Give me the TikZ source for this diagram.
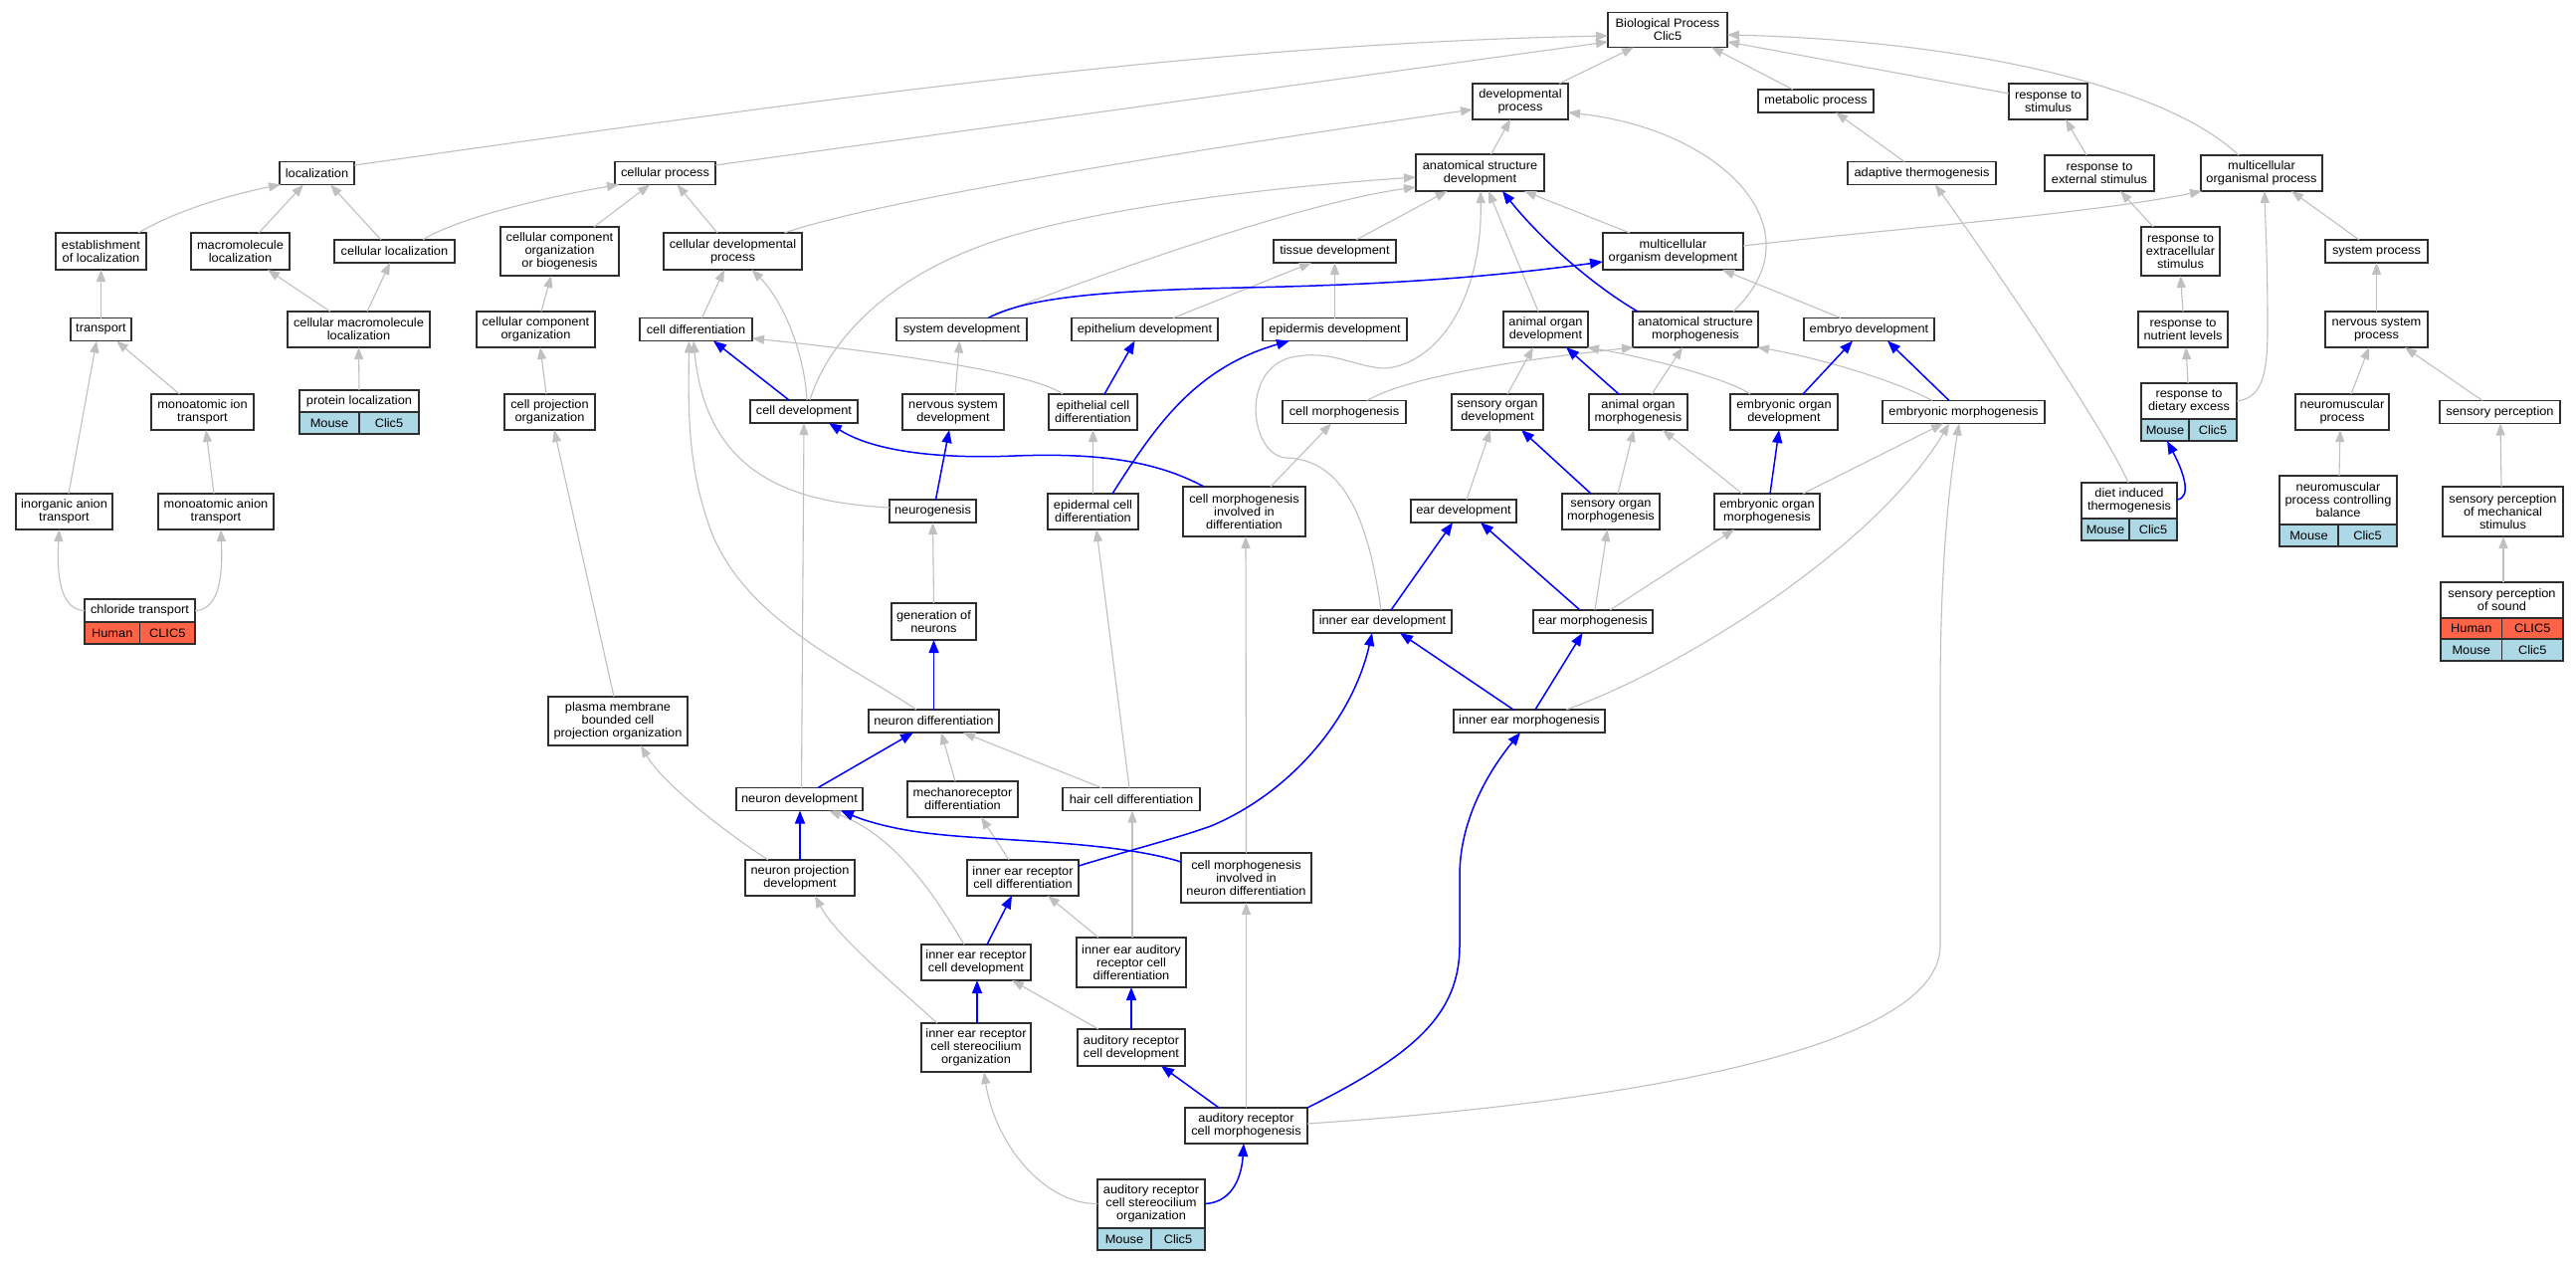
\documentclass[tikz,border=0pt]{standalone}
\usepackage{fontspec}
\newfontfamily\gofont{Liberation Sans}[FakeStretch=1.05]
\usetikzlibrary{arrows.meta}
\definecolor{edgegray}{HTML}{C0C0C0}
\definecolor{mouseblue}{HTML}{ADD8E6}
\definecolor{humanred}{HTML}{FF6347}
\newcommand\gofontsz{\gofont\fontsize{12.2pt}{13pt}\selectfont}
\tikzset{
 nb/.style 2 args={draw=black!82, line width=1.4pt, fill=white, inner sep=0pt, outer sep=0pt, align=center, font=\gofontsz, minimum width=#1pt, minimum height=#2pt},
 mc/.style 2 args={nb={#1}{#2}, fill=mouseblue},
 hc/.style 2 args={nb={#1}{#2}, fill=humanred},
 ge/.style={draw=edgegray, line width=1.1pt, -{Triangle[length=12pt,width=9pt]}},
 be/.style={draw=blue, line width=1.5pt, -{Triangle[length=13pt,width=10pt]}},
}
\begin{document}
\begin{tikzpicture}[x=1pt,y=-1pt]
\fill[white] (0,0) rectangle (2589,1267);
\useasboundingbox (0,0) rectangle (2589,1267);
% ---- nodes ----
\node[nb={120}{35}] (bp) at (1676,30) {Biological Process\\Clic5};
\node[nb={96}{36}] (devproc) at (1528,102) {developmental\\process};
\node[nb={116}{23}] (metab) at (1825,101.5) {metabolic process};
\node[nb={79}{36}] (respstim) at (2058.5,102) {response to\\stimulus};
\node[nb={75}{23}] (loc) at (318.5,174) {localization};
\node[nb={101}{23}] (cellproc) at (668.5,174) {cellular process};
\node[nb={129}{37}] (asd) at (1487.5,173.5) {anatomical structure\\development};
\node[nb={149}{23}] (adapt) at (1931.5,174) {adaptive thermogenesis};
\node[nb={110}{36}] (respext) at (2110,174) {response to\\external stimulus};
\node[nb={122}{36}] (mop) at (2273,174) {multicellular\\organismal process};
\node[nb={91}{37}] (estloc) at (101.5,252.5) {establishment\\of localization};
\node[nb={99}{37}] (macloc) at (241.5,252.5) {macromolecule\\localization};
\node[nb={121}{23}] (cellloc) at (396.5,252.5) {cellular localization};
\node[nb={119}{49}] (ccob) at (562.5,252.5) {cellular component\\organization\\or biogenesis};
\node[nb={139}{37}] (cdp) at (736.5,252.5) {cellular developmental\\process};
\node[nb={123}{23}] (tissue) at (1341.5,252.5) {tissue development};
\node[nb={141}{37}] (mod) at (1681.5,252.5) {multicellular\\organism development};
\node[nb={79}{49}] (respextra) at (2191.5,252.5) {response to\\extracellular\\stimulus};
\node[nb={103}{23}] (sysproc) at (2388.5,252.5) {system process};
\node[nb={61}{23}] (transport) at (101.5,331) {transport};
\node[nb={143}{36}] (cmacloc) at (360.5,331) {cellular macromolecule\\localization};
\node[nb={119}{36}] (cco) at (538.5,331) {cellular component\\organization};
\node[nb={113}{23}] (celldiff) at (699.5,331) {cell differentiation};
\node[nb={131}{23}] (sysdev) at (966.5,331) {system development};
\node[nb={147}{23}] (epidev) at (1150.5,331) {epithelium development};
\node[nb={145}{23}] (epiddev) at (1341.5,331) {epidermis development};
\node[nb={85}{36}] (aod) at (1553.5,331) {animal organ\\development};
\node[nb={126}{36}] (asm) at (1704,331) {anatomical structure\\morphogenesis};
\node[nb={131}{23}] (embdev) at (1878.5,331) {embryo development};
\node[nb={90}{36}] (respnut) at (2194,331) {response to\\nutrient levels};
\node[nb={103}{36}] (nsp) at (2388.5,331) {nervous system\\process};
\node[nb={103}{36}] (mit) at (203.5,414) {monoatomic ion\\transport};
\node[nb={120}{22}] (protloc) at (361,403) {protein localization};
\node[mc={60}{22}] (protlocM) at (331,425) {Mouse};
\node[mc={60}{22}] (protlocG) at (391,425) {Clic5};
\node[nb={91}{36}] (cpo) at (552.5,414) {cell projection\\organization};
\node[nb={108}{23}] (celldev) at (808,413.5) {cell development};
\node[nb={102}{36}] (nsd) at (958,414) {nervous system\\development};
\node[nb={89}{36}] (ecd) at (1098.5,414) {epithelial cell\\differentiation};
\node[nb={124}{23}] (cellmorph) at (1351,414) {cell morphogenesis};
\node[nb={92}{36}] (sod) at (1505,414) {sensory organ\\development};
\node[nb={99}{36}] (aom) at (1646.5,414) {animal organ\\morphogenesis};
\node[nb={108}{36}] (eod) at (1793,414) {embryonic organ\\development};
\node[nb={163}{23}] (embmorph) at (1973.5,414) {embryonic morphogenesis};
\node[nb={96}{36}] (respdiet) at (2200,403) {response to\\dietary excess};
\node[mc={48}{22}] (respdietM) at (2176,432) {Mouse};
\node[mc={48}{22}] (respdietG) at (2224,432) {Clic5};
\node[nb={94}{36}] (nmp) at (2354,414) {neuromuscular\\process};
\node[nb={121}{23}] (sensperc) at (2512.5,414) {sensory perception};
\node[nb={97}{36}] (iat) at (64.5,514) {inorganic anion\\transport};
\node[nb={116}{36}] (mat) at (217,514) {monoatomic anion\\transport};
\node[nb={87}{23}] (neurogen) at (937.5,513.5) {neurogenesis};
\node[nb={91}{36}] (edcd) at (1098.5,514) {epidermal cell\\differentiation};
\node[nb={123}{50}] (cmid) at (1250.5,514) {cell morphogenesis\\involved in\\differentiation};
\node[nb={106}{23}] (eardev) at (1471,513.5) {ear development};
\node[nb={98}{36}] (som) at (1619,514) {sensory organ\\morphogenesis};
\node[nb={106}{36}] (eom) at (1776,514) {embryonic organ\\morphogenesis};
\node[nb={96}{36}] (dit) at (2140,503) {diet induced\\thermogenesis};
\node[mc={48}{22}] (ditM) at (2116,532) {Mouse};
\node[mc={48}{22}] (ditG) at (2164,532) {Clic5};
\node[nb={118}{49}] (nmpcb) at (2350,502.5) {neuromuscular\\process controlling\\balance};
\node[mc={59}{22}] (nmpcbM) at (2320.5,538) {Mouse};
\node[mc={59}{22}] (nmpcbG) at (2379.5,538) {Clic5};
\node[nb={121}{50}] (spms) at (2515.5,514) {sensory perception\\of mechanical\\stimulus};
\node[nb={111}{23}] (chloride) at (140.5,613.5) {chloride transport};
\node[hc={55.5}{22}] (chlorideH) at (112.75,636) {Human};
\node[hc={55.5}{22}] (chlorideG) at (168.25,636) {CLIC5};
\node[nb={85}{37}] (gon) at (938.5,624.5) {generation of\\neurons};
\node[nb={139}{23}] (ied) at (1389.5,624.5) {inner ear development};
\node[nb={120}{23}] (earmorph) at (1601,624.5) {ear morphogenesis};
\node[nb={123}{36}] (sps) at (2514.5,603) {sensory perception\\of sound};
\node[hc={61.5}{21}] (spsH) at (2483.75,631.5) {Human};
\node[hc={61.5}{21}] (spsHG) at (2545.25,631.5) {CLIC5};
\node[mc={61.5}{22}] (spsM) at (2483.75,653) {Mouse};
\node[mc={61.5}{22}] (spsMG) at (2545.25,653) {Clic5};
\node[nb={140}{49}] (pmbcpo) at (621,724.5) {plasma membrane\\bounded cell\\projection organization};
\node[nb={131}{23}] (neurdiff) at (938.5,724.5) {neuron differentiation};
\node[nb={152}{23}] (iem) at (1537,724.5) {inner ear morphogenesis};
\node[nb={127}{23}] (neurdev) at (803.5,803) {neuron development};
\node[nb={111}{36}] (mechdiff) at (967.5,803) {mechanoreceptor\\differentiation};
\node[nb={138}{23}] (hcd) at (1137,803) {hair cell differentiation};
\node[nb={110}{36}] (npd) at (804,882) {neuron projection\\development};
\node[nb={112}{36}] (iercd) at (1028,882) {inner ear receptor\\cell differentiation};
\node[nb={131}{50}] (cmind) at (1252.5,882) {cell morphogenesis\\involved in\\neuron differentiation};
\node[nb={110}{36}] (iercdev) at (981,967) {inner ear receptor\\cell development};
\node[nb={110}{50}] (iearcd) at (1137,967) {inner ear auditory\\receptor cell\\differentiation};
\node[nb={110}{49}] (iercso) at (981,1052.5) {inner ear receptor\\cell stereocilium\\organization};
\node[nb={108}{37}] (arcd) at (1137,1052.5) {auditory receptor\\cell development};
\node[nb={123}{36}] (arcm) at (1252.5,1131) {auditory receptor\\cell morphogenesis};
\node[nb={108}{49}] (arcso) at (1157,1209.5) {auditory receptor\\cell stereocilium\\organization};
\node[mc={54}{22}] (arcsoM) at (1130,1245) {Mouse};
\node[mc={54}{22}] (arcsoG) at (1184,1245) {Clic5};
% ---- gray edges ----
\draw[ge] ([xshift=39pt]devproc.north) -- ([xshift=-34pt]bp.south);
\draw[ge] ([xshift=-23pt]metab.north) -- ([xshift=44pt]bp.south);
\draw[ge] ([yshift=8pt]respstim.west) -- ([yshift=-12pt]bp.east);
\draw[ge] ([yshift=8pt]loc.east) .. controls (776,107) and (1197,44) .. ([yshift=-6pt]bp.west);
\draw[ge] ([yshift=8pt]cellproc.east) -- ([yshift=-12pt]bp.west);
\draw[ge] ([xshift=-23pt]mop.north) .. controls (2170,80) and (1950,40) .. ([yshift=-5pt]bp.east);
\draw[ge] ([xshift=52pt]cdp.north) .. controls (889,199) and (1230,146) .. ([yshift=-8pt]devproc.west);
\draw[ge] ([xshift=11pt]asd.north) -- ([xshift=-10pt]devproc.south);
\draw[ge] ([xshift=38pt]asm.north) .. controls (1830,230) and (1730,130) .. ([yshift=-11pt]devproc.east);
\draw[ge] ([xshift=37.5pt]estloc.north) .. controls (180,210) and (235,195) .. ([xshift=1pt]loc.south west);
\draw[ge] ([xshift=18.5pt]macloc.north) -- ([xshift=-13.5pt]loc.south);
\draw[ge] ([xshift=-13.5pt]cellloc.north) -- ([xshift=13.5pt]loc.south);
\draw[ge] ([xshift=28.5pt]cellloc.north) .. controls (460,218) and (560,196) .. ([xshift=4pt]cellproc.south west);
\draw[ge] ([xshift=34.5pt]ccob.north) -- ([xshift=-15.5pt]cellproc.south);
\draw[ge] ([xshift=-15.5pt]cdp.north) -- ([xshift=12pt]cellproc.south);
\draw[ge] (transport.north) -- (estloc.south);
\draw[ge] ([xshift=-28.5pt]cmacloc.north) -- ([xshift=27.5pt]macloc.south);
\draw[ge] ([xshift=8.5pt]cmacloc.north) -- ([xshift=-4.5pt]cellloc.south);
\draw[ge] ([xshift=5.5pt]cco.north) -- ([xshift=-8.5pt]ccob.south);
\draw[ge] ([xshift=6pt]celldiff.north) -- ([xshift=-8.5pt]cdp.south);
\draw[ge] ([xshift=3pt]celldev.north) .. controls (808,350) and (785,300) .. ([xshift=19pt]cdp.south);
\draw[ge] ([xshift=6pt]celldev.north) .. controls (830,350) and (880,290) .. (971,253) .. controls (1060,215) and (1250,190) .. ([yshift=-4.5pt]asd.west);
\draw[ge] ([xshift=26.5pt]sysdev.north) .. controls (1080,285) and (1300,205) .. ([yshift=-14.5pt]asd.west);
\draw[ge] ([xshift=21.5pt]tissue.north) -- ([xshift=-33pt]asd.south);
\draw[ge] ([xshift=28.5pt]epidev.north) -- ([xshift=-23.5pt]tissue.south);
\draw[ge] (epiddev.north) -- (tissue.south);
\draw[ge] ([xshift=2pt]nsd.north) -- ([xshift=-2pt]sysdev.south);
\draw[ge] ([xshift=-30.5pt]ecd.north) .. controls (1040,375) and (900,355) .. ([yshift=-9pt]celldiff.east);
\draw[ge] ([xshift=-1.5pt]ied.north) .. controls (1375,520) and (1350,462) .. (1293,460) .. controls (1255,458) and (1245,365) .. (1304,358) .. controls (1340,352) and (1365,370) .. (1393,370) .. controls (1445,365) and (1490,300) .. ([xshift=0.5pt]asd.south);
\draw[ge] ([xshift=-7.5pt]aod.north) -- ([xshift=8.5pt]asd.south);
\draw[ge] ([xshift=-43.5pt]mod.north) -- ([xshift=44.5pt]asd.south);
\draw[ge] ([xshift=23pt]cellmorph.north) .. controls (1420,375) and (1560,358) .. ([xshift=1pt]asm.south west);
\draw[ge] ([xshift=10pt]sod.north) -- ([xshift=-12.5pt]aod.south);
\draw[ge] ([xshift=13.5pt]aom.north) -- ([xshift=-13pt]asm.south);
\draw[ge] ([xshift=-34pt]eod.north) .. controls (1740,382) and (1660,360) .. ([xshift=-1pt]aod.south east);
\draw[ge] ([xshift=-31.5pt]embmorph.north) .. controls (1900,380) and (1820,358) .. ([xshift=-1pt]asm.south east);
\draw[ge] ([xshift=-28.5pt]embdev.north) -- ([xshift=49.5pt]mod.south);
\draw[ge] ([yshift=5.5pt]mod.east) .. controls (1900,230) and (2100,215) .. ([xshift=1pt]mop.south west);
\draw[ge] ([xshift=-17.5pt]adapt.north) -- ([xshift=20pt]metab.south);
\draw[ge] ([xshift=-1pt]dit.north) .. controls (2120,440) and (2020,290) .. ([xshift=13.5pt]adapt.south);
\draw[ge] ([xshift=-13pt]respext.north) -- ([xshift=17.5pt]respstim.south);
\draw[ge] ([xshift=-27.5pt]respextra.north) -- ([xshift=21pt]respext.south);
\draw[ge] (respnut.north) -- (respextra.south);
\draw[ge] ([xshift=-1pt]respdiet.north) -- ([xshift=3pt]respnut.south);
\draw[ge] (respdiet.east) .. controls (2272,400) and (2279,380) .. (2279,330) .. controls (2279,260) and (2277,230) .. ([xshift=3pt]mop.south);
\draw[ge] ([xshift=-17.5pt]sysproc.north) -- ([xshift=30pt]mop.south);
\draw[ge] (nsp.north) -- (sysproc.south);
\draw[ge] ([xshift=9pt]nmp.north) -- ([xshift=-7.5pt]nsp.south);
\draw[ge] ([xshift=-17.5pt]sensperc.north) -- ([xshift=28.5pt]nsp.south);
\draw[ge] ([xshift=1pt]nmpcb.north) -- ([xshift=-2pt]nmp.south);
\draw[ge] ([xshift=-1.5pt]spms.north) -- ([xshift=0.5pt]sensperc.south);
\draw[ge] ([xshift=1.5pt]sps.north) -- ([xshift=0.5pt]spms.south);
\draw[ge] ([xshift=36pt]eom.north) -- ([xshift=-20.5pt]embmorph.south);
\draw[ge] ([xshift=-25pt]eom.north) -- ([xshift=24.5pt]aom.south);
\draw[ge] ([xshift=17pt]earmorph.north) -- ([xshift=-33pt]eom.south);
\draw[ge] ([xshift=37pt]iem.north) .. controls (1690,672) and (1885,550) .. ([xshift=-14.5pt]embmorph.south);
\draw[ge] ([yshift=2pt]arcm.east) .. controls (1600,1110) and (1950,1060) .. (1950,950) -- (1950,700) .. controls (1950,560) and (1960,480) .. ([xshift=-4.5pt]embmorph.south);
\draw[ge] ([xshift=3pt]eardev.north) -- ([xshift=-7pt]sod.south);
\draw[ge] ([xshift=7pt]som.north) -- ([xshift=-4.5pt]aom.south);
\draw[ge] ([xshift=26.5pt]cmid.north) -- ([xshift=-13pt]cellmorph.south);
\draw[ge] ([xshift=2pt]earmorph.north) -- ([xshift=-3.5pt]som.south);
\draw[ge] (gon.north) -- (neurogen.south);
\draw[ge] ([xshift=-7.5pt]mechdiff.north) -- ([xshift=7.5pt]neurdiff.south);
\draw[ge] ([xshift=-30pt]hcd.north) -- ([xshift=29.5pt]neurdiff.south);
\draw[ge] ([xshift=-2pt]hcd.north) -- ([xshift=3.5pt]edcd.south);
\draw[ge] (edcd.north) -- (ecd.south);
\draw[ge] ([yshift=3.5pt]neurogen.west) .. controls (800,505) and (710,480) .. ([xshift=-2.5pt]celldiff.south);
\draw[ge] ([xshift=-17.5pt]neurdiff.north) .. controls (850,665) and (740,620) .. (710,520) .. controls (690,460) and (692,400) .. ([xshift=-7pt]celldiff.south);
\draw[ge] ([xshift=2pt]neurdev.north) -- (celldev.south);
\draw[ge] ([xshift=-3.5pt]cpo.north) -- ([xshift=4.5pt]cco.south);
\draw[ge] ([xshift=-4pt]pmbcpo.north) -- ([xshift=4.5pt]cpo.south);
\draw[ge] (protloc.north) -- (cmacloc.south);
\draw[ge] ([xshift=-23pt]mit.north) -- ([xshift=15.5pt]transport.south);
\draw[ge] ([xshift=4.5pt]iat.north) -- ([xshift=-4.5pt]transport.south);
\draw[ge] ([xshift=-2pt]mat.north) -- ([xshift=3.5pt]mit.south);
\draw[ge] (chloride.west) .. controls (55,613) and (58,560) .. ([xshift=-5pt]iat.south);
\draw[ge] (chloride.east) .. controls (226,613) and (223,560) .. ([xshift=5pt]mat.south);
\draw[ge] ([xshift=-32pt]npd.north) .. controls (720,830) and (665,785) .. ([xshift=23pt]pmbcpo.south);
\draw[ge] ([xshift=-12pt]iercdev.north) .. controls (940,900) and (900,840) .. ([xshift=29.5pt]neurdev.south);
\draw[ge] ([xshift=-14pt]iercd.north) -- ([xshift=18.5pt]mechdiff.south);
\draw[ge] ([xshift=1pt]iearcd.north) -- ([xshift=1pt]hcd.south);
\draw[ge] (cmind.north) -- ([xshift=1.5pt]cmid.south);
\draw[ge] ([xshift=-33pt]iearcd.north) -- ([xshift=25pt]iercd.south);
\draw[ge] ([xshift=-39pt]iercso.north) .. controls (900,990) and (840,940) .. ([xshift=15pt]npd.south);
\draw[ge] ([xshift=-33pt]arcd.north) -- ([xshift=36pt]iercdev.south);
\draw[ge] (arcm.north) -- (cmind.south);
\draw[ge] (arcso.west) .. controls (1050,1210) and (1000,1150) .. ([xshift=8pt]iercso.south);
% ---- blue edges ----
\draw[be] ([xshift=-15pt]celldev.north) -- ([xshift=17.5pt]celldiff.south);
\draw[be] ([xshift=26.5pt]sysdev.north) .. controls (1030,300) and (1100,292) .. (1249,289) .. controls (1400,286) and (1500,278) .. ([yshift=-10.5pt]mod.west);
\draw[be] ([xshift=11.5pt]ecd.north) -- ([xshift=-10pt]epidev.south);
\draw[be] ([xshift=19.5pt]edcd.north) .. controls (1160,430) and (1200,370) .. ([xshift=-45.5pt]epiddev.south);
\draw[be] ([xshift=-58pt]asm.north) .. controls (1590,280) and (1540,230) .. ([xshift=22.5pt]asd.south);
\draw[be] ([xshift=-19.5pt]aom.north) -- ([xshift=20.5pt]aod.south);
\draw[be] ([xshift=19pt]eod.north) -- ([xshift=-16.5pt]embdev.south);
\draw[be] ([xshift=-14.5pt]embmorph.north) -- ([xshift=18.5pt]embdev.south);
\draw[be] ([yshift=1pt]dit.east) .. controls (2203,500) and (2195,475) .. ([xshift=2pt]respdietM.south);
\draw[be] ([xshift=3pt]eom.north) -- ([xshift=-5pt]eod.south);
\draw[be] ([xshift=-20pt]som.north) -- ([xshift=24pt]sod.south);
\draw[be] ([xshift=8.5pt]ied.north) -- ([xshift=-11pt]eardev.south);
\draw[be] ([xshift=-13pt]earmorph.north) -- ([xshift=17pt]eardev.south);
\draw[be] ([xshift=-16pt]iem.north) -- ([xshift=17.5pt]ied.south);
\draw[be] ([xshift=6pt]iem.north) -- ([xshift=-10.5pt]earmorph.south);
\draw[be] ([yshift=12pt]iercd.east) .. controls (1150,850) and (1180,843) .. (1217,830) .. controls (1300,795) and (1360,720) .. ([xshift=-10.5pt]ied.south);
\draw[be] (arcm.north east) .. controls (1420,1060) and (1467,1020) .. (1467,950) -- (1467,880) .. controls (1467,820) and (1500,770) .. ([xshift=-9pt]iem.south);
\draw[be] ([xshift=3pt]neurogen.north) -- ([xshift=-4pt]nsd.south);
\draw[be] (neurdiff.north) -- (gon.south);
\draw[be] ([xshift=18.5pt]neurdev.north) -- ([xshift=-20.5pt]neurdiff.south);
\draw[be] ([xshift=-40.5pt]cmid.north) .. controls (1160,462) and (1100,455) .. (1020,458) .. controls (950,461) and (880,455) .. ([xshift=25pt]celldev.south);
\draw[be] (npd.north) -- ([xshift=0.5pt]neurdev.south);
\draw[be] ([yshift=16pt]cmind.west) .. controls (1120,845) and (1000,845) .. (940,838) .. controls (900,834) and (870,825) .. ([xshift=41.5pt]neurdev.south);
\draw[be] ([xshift=11pt]iercdev.north) -- ([xshift=-11pt]iercd.south);
\draw[be] ([xshift=1pt]iercso.north) -- ([xshift=1pt]iercdev.south);
\draw[be] (arcd.north) -- (iearcd.south);
\draw[be] ([xshift=-27.5pt]arcm.north) -- ([xshift=30pt]arcd.south);
\draw[be] (arcso.east) .. controls (1240,1208) and (1248,1180) .. ([xshift=-2.5pt]arcm.south);
\end{tikzpicture}
\end{document}
